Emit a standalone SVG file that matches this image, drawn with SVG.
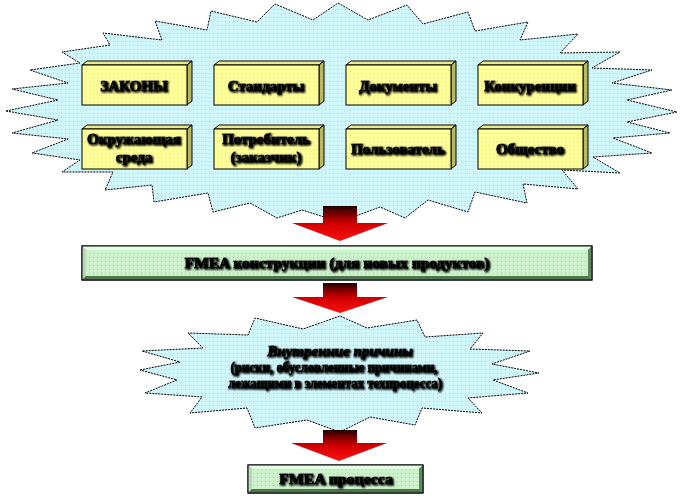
<svg xmlns="http://www.w3.org/2000/svg" width="681" height="500" viewBox="0 0 681 500">
<defs>
<pattern id="dotsC" width="4" height="4" patternUnits="userSpaceOnUse"><rect width="4" height="4" fill="#cff7fb"/><rect x="1" y="1" width="1" height="1" fill="#a9d6de"/></pattern>
<pattern id="dotsY" width="4" height="4" patternUnits="userSpaceOnUse"><rect width="4" height="4" fill="#ffff99"/><rect x="1" y="1" width="1" height="1" fill="#e0e080"/></pattern>
<pattern id="dotsG" width="4" height="4" patternUnits="userSpaceOnUse"><rect width="4" height="4" fill="#ccf2cc"/><rect x="1" y="1" width="1" height="1" fill="#a8d0a8"/></pattern>
<linearGradient id="red" x1="0" y1="0" x2="0" y2="1">
<stop offset="0" stop-color="#1a0000"/><stop offset="0.2" stop-color="#700000"/><stop offset="0.5" stop-color="#d00000"/><stop offset="1" stop-color="#ff1010"/>
</linearGradient>
<filter id="sh" x="-10%" y="-30%" width="120%" height="160%"><feGaussianBlur in="SourceAlpha" stdDeviation="0.8"/><feOffset dx="1" dy="1" result="b"/><feMerge><feMergeNode in="b"/><feMergeNode in="b"/><feMergeNode in="SourceGraphic"/></feMerge></filter>
</defs>
<style>
.burst{fill:url(#dotsC);stroke:#000;stroke-width:1;stroke-dasharray:2 1}
.front{fill:url(#dotsY);stroke:#000;stroke-width:1}
.top{fill:#eeee88;stroke:#000;stroke-width:1}
.side{fill:#b8b860;stroke:#000;stroke-width:1}
.t{font-family:"Liberation Serif","Times New Roman",serif;font-weight:bold;font-size:15px;fill:#000;stroke:#000;stroke-width:0.5;text-anchor:middle;filter:url(#sh)}
.arrow{fill:url(#red)}
</style>
<g id="burst-top">
<polygon class="burst" points="6,111 58,100 12,89 68,83 30,70 80,63 62,52 110,45 103,33 162,40 155,21 207,30 211,11 257,22 275,4 313,20 338,3 368,20 407,5 423,24 468,12 475,31 528,22 520,40 578,34 560,53 620,52 592,68 652,70 612,83 672,90 627,100 677,112 627,122 670,133 613,138 652,153 593,157 620,173 562,170 578,189 523,184 527,203 475,192 468,212 428,200 405,218 380,207 340,222 302,210 277,218 250,203 213,212 208,193 154,202 152,185 105,190 113,172 62,172 80,160 32,153 68,139 12,133 58,120"/>
</g>
<g id="box-zakony"><polygon class="top" points="82,65 87,61 192,61 187,65"/><polygon class="side" points="187,65 192,61 192,101 187,105"/><rect class="front" x="82" y="65" width="105" height="40"/><text class="t" x="134" y="91">ЗАКОНЫ</text></g>
<g id="box-standarty"><polygon class="top" points="214,65 219,61 324,61 319,65"/><polygon class="side" points="319,65 324,61 324,101 319,105"/><rect class="front" x="214" y="65" width="105" height="40"/><text class="t" x="266" y="91">Стандарты</text></g>
<g id="box-dokumenty"><polygon class="top" points="346,65 351,61 456,61 451,65"/><polygon class="side" points="451,65 456,61 456,101 451,105"/><rect class="front" x="346" y="65" width="105" height="40"/><text class="t" x="398" y="91">Документы</text></g>
<g id="box-konkurentsii"><polygon class="top" points="478,65 483,61 588,61 583,65"/><polygon class="side" points="583,65 588,61 588,101 583,105"/><rect class="front" x="478" y="65" width="105" height="40"/><text class="t" x="530" y="91">Конкуренции</text></g>
<g id="box-okruzh"><polygon class="top" points="82,129 87,125 192,125 187,129"/><polygon class="side" points="187,129 192,125 192,165 187,169"/><rect class="front" x="82" y="129" width="105" height="40"/><text class="t" x="134" y="144">Окружающая</text><text class="t" x="134" y="162">среда</text></g>
<g id="box-potrebitel"><polygon class="top" points="214,129 219,125 324,125 319,129"/><polygon class="side" points="319,129 324,125 324,165 319,169"/><rect class="front" x="214" y="129" width="105" height="40"/><text class="t" x="266" y="144">Потребитель</text><text class="t" x="266" y="162">(заказчик)</text></g>
<g id="box-polzovatel"><polygon class="top" points="346,129 351,125 456,125 451,129"/><polygon class="side" points="451,129 456,125 456,165 451,169"/><rect class="front" x="346" y="129" width="105" height="40"/><text class="t" x="398" y="154">Пользователь</text></g>
<g id="box-obshchestvo"><polygon class="top" points="478,129 483,125 588,125 583,129"/><polygon class="side" points="583,129 588,125 588,165 583,169"/><rect class="front" x="478" y="129" width="105" height="40"/><text class="t" x="530" y="154">Общество</text></g>
<g id="fmea-konstr">
<rect x="82" y="246" width="510" height="34" fill="#88b088" stroke="#000"/>
<polygon points="82,246 592,246 588,250 86,250" fill="#e4ffe4"/>
<polygon points="82,246 86,250 86,276 82,280" fill="#b8d8b8"/>
<polygon points="592,246 592,280 588,276 588,250" fill="#5e865e"/>
<polygon points="82,280 86,276 588,276 592,280" fill="#4e764e"/>
<rect x="86" y="250" width="502" height="26" fill="url(#dotsG)"/>
<rect x="82" y="246" width="510" height="34" fill="none" stroke="#000"/>
<text class="t" x="337" y="268" font-size="14" textLength="305" lengthAdjust="spacingAndGlyphs">FMEA конструкции  (для новых продуктов)</text>
</g>
<g id="burst-internal">
<polygon class="burst" points="140,370 180,362 142,351 203,348 188,333 248,335 255,318 303,329 340,316 367,328 417,320 425,337 483,333 470,349 530,351 492,364 539,373 493,380 528,393 468,398 482,413 422,408 415,425 370,417 340,432 307,420 255,428 247,408 190,413 202,397 145,393 177,380"/>
<text class="t" x="340" y="356" font-size="16" font-style="italic">Внутренние причины</text>
<text class="t" x="334" y="372" font-size="11" textLength="207" lengthAdjust="spacingAndGlyphs">(риски,  обусловленные  причинами,</text>
<text class="t" x="335" y="388" font-size="11" textLength="214" lengthAdjust="spacingAndGlyphs">лежащими  в элементах  техпроцесса)</text>
</g>
<g id="fmea-process">
<rect x="248" y="465" width="175" height="28" fill="#88b088" stroke="#000"/>
<polygon points="248,465 423,465 419,469 252,469" fill="#e4ffe4"/>
<polygon points="248,465 252,469 252,489 248,493" fill="#b8d8b8"/>
<polygon points="423,465 423,493 419,489 419,469" fill="#5e865e"/>
<polygon points="248,493 252,489 419,489 423,493" fill="#4e764e"/>
<rect x="252" y="469" width="167" height="20" fill="url(#dotsG)"/>
<rect x="248" y="465" width="175" height="28" fill="none" stroke="#000"/>
<text class="t" x="336" y="484" font-size="14" textLength="114" lengthAdjust="spacingAndGlyphs">FMEA процесса</text>
</g>
<g id="connectors">
<polygon class="arrow" points="323,206 357,206 357,223 388,223 340,241 292,223 323,223"/>
<polygon class="arrow" points="323,283 357,283 357,297 388,297 340,313 292,297 323,297"/>
<polygon class="arrow" points="323,430 357,430 357,443 387,443 339,461 291,443 323,443"/>
</g>
</svg>
